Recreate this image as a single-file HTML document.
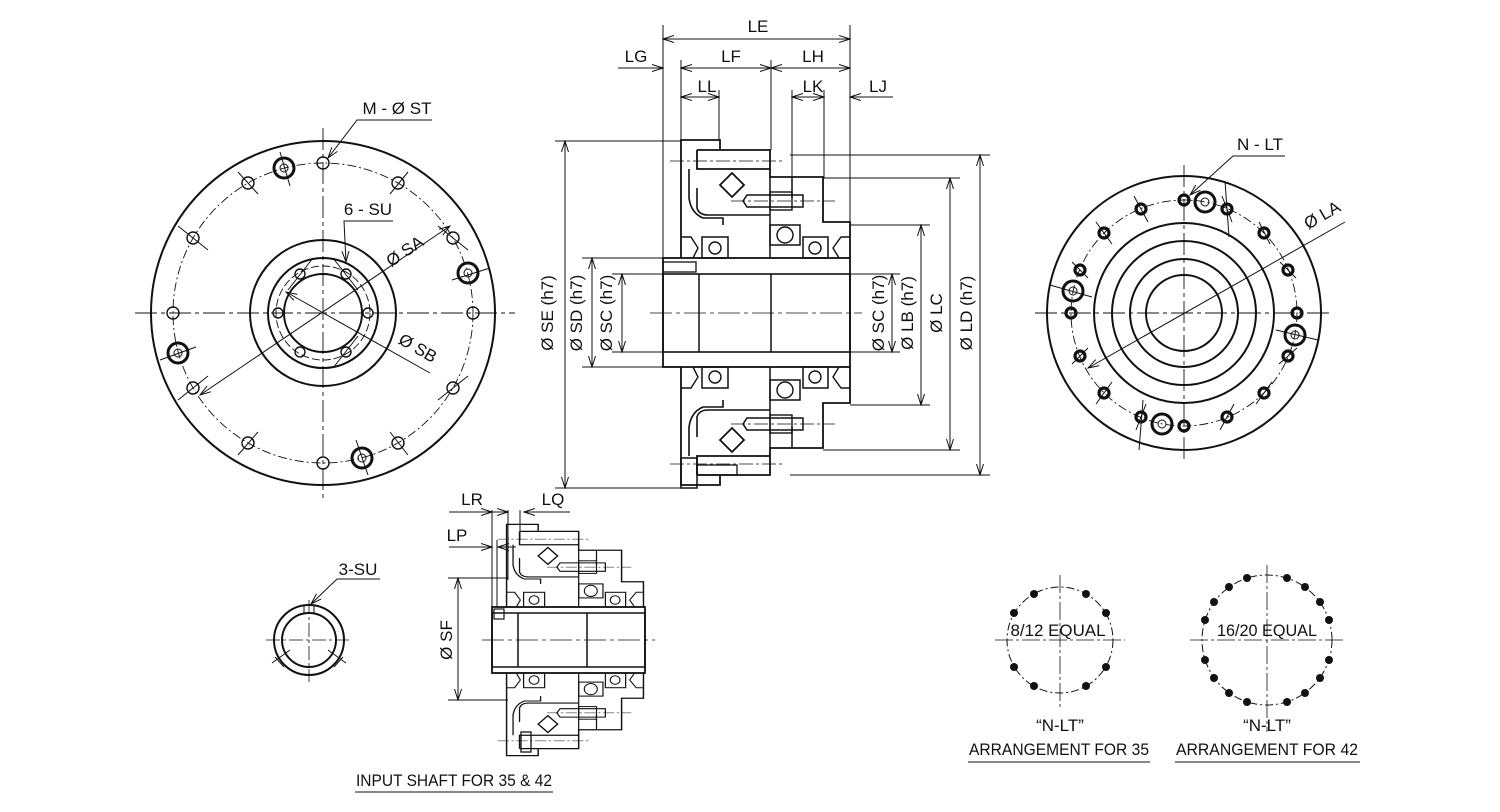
<!DOCTYPE html>
<html><head><meta charset="utf-8"><style>
html,body{margin:0;padding:0;background:#fff;}
svg{display:block;}
text{font-family:"Liberation Sans",Arial,sans-serif;font-size:17px;fill:#111;}
</style></head><body>
<svg width="1500" height="812" viewBox="0 0 1500 812" xmlns="http://www.w3.org/2000/svg">
<defs>
<marker id="a" markerWidth="12" markerHeight="8" refX="11" refY="4" orient="auto-start-reverse" markerUnits="userSpaceOnUse">
<path d="M0,0.5 L11,4 L0,7.5" fill="none" stroke="#111" stroke-width="1"/></marker>
<g id="half" fill="none" stroke="#111">
 <path d="M18,0 L18,-118 L57,-118 L57,-108 L34,-108 M57,-108 L107,-108 L107,-89 L34,-89 L34,-108 M107,-89 L107,-81 L160,-81 L160,-36 L187,-36 L187,0" stroke-width="1.8"/>
 <path d="M107,-81 L107,-33 L107,0 M129,-81 L129,-60" stroke-width="1.5"/>
 <path d="M26,-89 L26,-60 Q28,-45 40,-40 L60,-40 L60,-33 M34,-70 L34,-50 Q36,-43 45,-43 L107,-43" stroke-width="1.6"/>
 <rect x="39" y="-21" width="26" height="21" stroke-width="1.5"/><circle cx="52" cy="-10" r="6" stroke-width="1.4"/>
 <rect x="107" y="-33" width="30" height="20" stroke-width="1.5"/><circle cx="122" cy="-23" r="8" stroke-width="1.4"/>
 <rect x="140" y="-21" width="25" height="21" stroke-width="1.5"/><circle cx="152" cy="-10" r="6" stroke-width="1.4"/>
 <path d="M18,-21 L28,-21 L35,-10 L30,0 M187,-21 L178,-21 L170,-10 L176,0" stroke-width="1.4"/>
 <path d="M69,-85 L81,-73 L69,-61 L57,-73 Z" stroke-width="1.8"/>
 <path d="M84,-63 L140,-63 L140,-51 L84,-51 L80,-57 Z" stroke-width="1.5"/>
 <rect x="107" y="-66" width="22" height="18" stroke-width="1.4"/>
 <path d="M68,-57 L172,-57 M7,-97 L120,-97" stroke-width="0.8" stroke-dasharray="14,3,3,3"/>
</g>
</defs>
<g fill="none" stroke="#111">
<!-- LEFT VIEW -->
<circle cx="323" cy="313" r="172" stroke-width="2"/>
<circle cx="323" cy="313" r="150" stroke-width="0.9" stroke-dasharray="9,3,2,3"/>
<circle cx="323" cy="313" r="73" stroke-width="2"/>
<circle cx="323" cy="313" r="55" stroke-width="2"/>
<circle cx="323" cy="313" r="47" stroke-width="0.9" stroke-dasharray="8,3"/>
<circle cx="323" cy="313" r="39" stroke-width="2"/>
<path d="M135,313 L515,313 M323,128 L323,500" stroke-width="0.9" stroke-dasharray="22,4,4,4"/>
<g stroke-width="1.4">
<circle cx="323" cy="163" r="6"/><circle cx="398" cy="183" r="6"/><circle cx="453" cy="238" r="6"/><circle cx="473" cy="313" r="6"/>
<circle cx="453" cy="388" r="6"/><circle cx="398" cy="443" r="6"/><circle cx="323" cy="463" r="6"/><circle cx="248" cy="443" r="6"/>
<circle cx="193" cy="388" r="6"/><circle cx="173" cy="313" r="6"/><circle cx="193" cy="238" r="6"/><circle cx="248" cy="183" r="6"/>
<circle cx="368" cy="313" r="5"/><circle cx="278" cy="313" r="5"/><circle cx="346" cy="274" r="5"/><circle cx="300" cy="274" r="5"/><circle cx="346" cy="352" r="5"/><circle cx="300" cy="352" r="5"/>
</g>
<g stroke-width="3"><circle cx="284" cy="168" r="10"/><circle cx="468" cy="273" r="10"/><circle cx="178" cy="353" r="10"/><circle cx="362" cy="458" r="10"/></g>
<g stroke-width="1"><circle cx="284" cy="168" r="4"/><circle cx="468" cy="273" r="4"/><circle cx="178" cy="353" r="4"/><circle cx="362" cy="458" r="4"/>
<path d="M280,152 L290,186 M452,280 L490,268 M160,360 L196,347 M356,440 L368,475 M238,172 L258,194 M408,172 L390,194 M438,226 L468,250 M438,400 L468,376 M408,455 L390,432 M238,455 L258,432 M178,226 L208,250 M178,400 L208,376 M333,258 L358,290 M288,290 L313,258 M333,368 L358,336"/>
<path d="M200,395 L450,226" marker-start="url(#a)" marker-end="url(#a)"/>
<path d="M286,292 L430,373" marker-start="url(#a)"/>
<path d="M432,120 L357,120 L328,158" marker-end="url(#a)"/>
<path d="M393,221 L344,221 L346,262" marker-end="url(#a)"/>
</g>
<!-- RIGHT VIEW -->
<circle cx="1184" cy="313" r="137" stroke-width="2"/>
<circle cx="1184" cy="313" r="113" stroke-width="0.9" stroke-dasharray="9,3,2,3"/>
<circle cx="1184" cy="313" r="90" stroke-width="2"/>
<circle cx="1184" cy="313" r="72" stroke-width="2"/>
<circle cx="1184" cy="313" r="54" stroke-width="2"/>
<circle cx="1184" cy="313" r="38" stroke-width="2"/>
<path d="M1035,313 L1332,313 M1184,165 L1184,462" stroke-width="0.9" stroke-dasharray="22,4,4,4"/>
<g stroke-width="3.2">
<circle cx="1184" cy="200" r="5"/><circle cx="1227" cy="209" r="5"/><circle cx="1264" cy="233" r="5"/><circle cx="1288" cy="270" r="5"/>
<circle cx="1297" cy="313" r="5"/><circle cx="1288" cy="356" r="5"/><circle cx="1264" cy="393" r="5"/><circle cx="1227" cy="417" r="5"/>
<circle cx="1184" cy="426" r="5"/><circle cx="1141" cy="417" r="5"/><circle cx="1104" cy="393" r="5"/><circle cx="1080" cy="356" r="5"/>
<circle cx="1071" cy="313" r="5"/><circle cx="1080" cy="270" r="5"/><circle cx="1104" cy="233" r="5"/><circle cx="1141" cy="209" r="5"/>
</g>
<g stroke-width="1">
<path d="M1222,196 L1232,222 M1259,222 L1270,244 M1280,262 L1296,278 M1279,364 L1297,348 M1256,404 L1272,382 M1220,430 L1234,404 M1136,430 L1146,404 M1096,404 L1112,382 M1072,364 L1088,348 M1072,262 L1088,278 M1096,222 L1112,244 M1134,196 L1148,222"/>
</g>
<g stroke-width="3"><circle cx="1205" cy="202" r="10"/><circle cx="1295" cy="335" r="10"/><circle cx="1162" cy="424" r="10"/><circle cx="1073" cy="291" r="10"/></g>
<g stroke-width="1"><circle cx="1205" cy="202" r="4"/><circle cx="1295" cy="335" r="4"/><circle cx="1162" cy="424" r="4"/><circle cx="1073" cy="291" r="4"/>
<path d="M1088,368 L1345,222" marker-start="url(#a)"/>
<path d="M1285,156 L1233,156 L1190,195" marker-end="url(#a)"/>
<path d="M1225,181 L1229,237 M1143,400 L1139,450 M1050,285 L1092,297 M1276,330 L1318,340"/>
</g>
<!-- MIDDLE SECTION -->
<rect x="663" y="258" width="187" height="109" stroke-width="1.8"/>
<rect x="663" y="274" width="187" height="78" stroke-width="1.6"/>
<path d="M699,274 L699,352 M771,274 L771,352" stroke-width="1.5"/>
<path d="M650,313 L862,313" stroke-width="0.8" stroke-dasharray="22,4,4,4"/>
<use href="#half" transform="translate(663,258)"/>
<use href="#half" transform="translate(663,367) scale(1,-1)"/>
<rect x="663" y="262" width="33" height="10" stroke-width="1.3"/>
<rect x="681" y="458" width="16" height="30" stroke-width="1.5"/>
<rect x="697" y="465" width="40" height="10" stroke-width="1.3"/>
<g stroke-width="1">
<path d="M663,25 L663,258 M850,25 L850,258 M681,60 L681,140 M719,90 L719,140 M771,60 L771,150 M792,90 L792,178 M824,90 L824,178"/>
<path d="M663,39 L850,39" marker-start="url(#a)" marker-end="url(#a)"/>
<path d="M618,68 L663,68" marker-end="url(#a)"/>
<path d="M681,68 L771,68" marker-start="url(#a)" marker-end="url(#a)"/>
<path d="M771,68 L850,68" marker-start="url(#a)" marker-end="url(#a)"/>
<path d="M681,97 L719,97" marker-start="url(#a)" marker-end="url(#a)"/>
<path d="M792,97 L824,97" marker-start="url(#a)" marker-end="url(#a)"/>
<path d="M893,97 L850,97" marker-end="url(#a)"/>
<path d="M555,141 L681,141 M555,488 L681,488 M582,258 L663,258 M582,367 L663,367 M612,274 L663,274 M612,352 L663,352"/>
<path d="M565,141 L565,488" marker-start="url(#a)" marker-end="url(#a)"/>
<path d="M592,258 L592,367" marker-start="url(#a)" marker-end="url(#a)"/>
<path d="M622,274 L622,352" marker-start="url(#a)" marker-end="url(#a)"/>
<path d="M850,274 L900,274 M850,352 L900,352 M850,225 L930,225 M850,405 L930,405 M823,178 L960,178 M823,450 L960,450 M790,155 L990,155 M790,475 L990,475"/>
<path d="M892,274 L892,352" marker-start="url(#a)" marker-end="url(#a)"/>
<path d="M921,225 L921,405" marker-start="url(#a)" marker-end="url(#a)"/>
<path d="M950,178 L950,450" marker-start="url(#a)" marker-end="url(#a)"/>
<path d="M980,155 L980,475" marker-start="url(#a)" marker-end="url(#a)"/>
</g>
<!-- BOTTOM SECTION -->
<rect x="492" y="607" width="153" height="66" stroke-width="1.8"/>
<rect x="492" y="613" width="153" height="54" stroke-width="1.5"/>
<path d="M518,613 L518,667 M587,613 L587,667" stroke-width="1.5"/>
<path d="M482,640 L655,640" stroke-width="0.8" stroke-dasharray="22,4,4,4"/>
<use href="#half" transform="translate(492,607) scale(0.81,0.7)"/>
<use href="#half" transform="translate(492,673) scale(0.81,-0.7)"/>
<rect x="494" y="609" width="10" height="10" stroke-width="1.2"/>
<rect x="521" y="732" width="10" height="20" stroke-width="1.3"/>
<g stroke-width="1">
<path d="M448,578 L508,578 M448,700 L508,700"/>
<path d="M458,578 L458,700" marker-start="url(#a)" marker-end="url(#a)"/>
<path d="M492,510 L492,607 M497,540 L497,607 M508,510 L508,580 M520,510 L520,540"/>
<path d="M449,512 L492,512" marker-end="url(#a)"/>
<path d="M508,512 L492,512" marker-start="url(#a)"/>
<path d="M570,512 L524,512" marker-end="url(#a)"/>
<path d="M449,547 L492,547" marker-end="url(#a)"/>
<path d="M516,547 L498,547" marker-end="url(#a)"/>
</g>
<!-- 3-SU -->
<circle cx="309" cy="640" r="35" stroke-width="2"/>
<circle cx="309" cy="640" r="27" stroke-width="2"/>
<path d="M266,640 L352,640 M309,600 L309,682" stroke-width="0.8" stroke-dasharray="14,3,3,3"/>
<g stroke-width="1"><rect x="304" y="605" width="10" height="8"/>
<path d="M380,579 L337,579 L311,604" marker-end="url(#a)"/>
<path d="M272,663 L290,650 M346,663 L328,650 M275,657 L284,667 M343,657 L334,667"/></g>
<!-- ARRANGEMENTS -->
<circle cx="1060" cy="640" r="53" stroke-width="1" stroke-dasharray="8,3,2,3"/>
<path d="M995,640 L1125,640 M1060,575 L1060,707" stroke-width="0.8" stroke-dasharray="18,3,3,3"/>
<circle cx="1267" cy="640" r="65" stroke-width="1" stroke-dasharray="8,3,2,3"/>
<path d="M1190,640 L1344,640 M1267,565 L1267,732" stroke-width="0.8" stroke-dasharray="18,3,3,3"/>
<g fill="#111" stroke="none">
<circle cx="1034" cy="594" r="4"/><circle cx="1086" cy="594" r="4"/><circle cx="1014" cy="613" r="4"/><circle cx="1106" cy="613" r="4"/>
<circle cx="1014" cy="667" r="4"/><circle cx="1106" cy="667" r="4"/><circle cx="1034" cy="686" r="4"/><circle cx="1086" cy="686" r="4"/>
<circle cx="1247" cy="578" r="4"/><circle cx="1287" cy="578" r="4"/><circle cx="1229" cy="587" r="4"/><circle cx="1305" cy="587" r="4"/>
<circle cx="1214" cy="602" r="4"/><circle cx="1320" cy="602" r="4"/><circle cx="1205" cy="620" r="4"/><circle cx="1329" cy="620" r="4"/>
<circle cx="1205" cy="660" r="4"/><circle cx="1329" cy="660" r="4"/><circle cx="1214" cy="678" r="4"/><circle cx="1320" cy="678" r="4"/>
<circle cx="1229" cy="693" r="4"/><circle cx="1305" cy="693" r="4"/><circle cx="1247" cy="702" r="4"/><circle cx="1287" cy="702" r="4"/>
</g>
<g stroke-width="1"><path d="M968,762 L1150,762 M1175,762 L1360,762 M355,792 L553,792"/></g>
</g>
<!-- TEXT -->
<text x="758" y="32" text-anchor="middle">LE</text>
<text x="636" y="62" text-anchor="middle">LG</text>
<text x="731" y="62" text-anchor="middle">LF</text>
<text x="813" y="62" text-anchor="middle">LH</text>
<text x="707" y="92" text-anchor="middle">LL</text>
<text x="813" y="92" text-anchor="middle">LK</text>
<text x="878" y="92" text-anchor="middle">LJ</text>
<text x="397" y="114" text-anchor="middle">M - Ø ST</text>
<text x="368" y="215" text-anchor="middle">6 - SU</text>
<text transform="translate(408,256) rotate(-34)" text-anchor="middle">Ø SA</text>
<text transform="translate(415,353) rotate(30)" text-anchor="middle">Ø SB</text>
<text x="1260" y="150" text-anchor="middle">N - LT</text>
<text transform="translate(1325,220) rotate(-30)" text-anchor="middle">Ø LA</text>
<text transform="translate(553,313) rotate(-90)" text-anchor="middle">Ø SE (h7)</text>
<text transform="translate(582,313) rotate(-90)" text-anchor="middle">Ø SD (h7)</text>
<text transform="translate(612,313) rotate(-90)" text-anchor="middle">Ø SC (h7)</text>
<text transform="translate(884,313) rotate(-90)" text-anchor="middle">Ø SC (h7)</text>
<text transform="translate(913,313) rotate(-90)" text-anchor="middle">Ø LB (h7)</text>
<text transform="translate(942,313) rotate(-90)" text-anchor="middle">Ø LC</text>
<text transform="translate(972,313) rotate(-90)" text-anchor="middle">Ø LD (h7)</text>
<text transform="translate(452,640) rotate(-90)" text-anchor="middle">Ø SF</text>
<text x="472" y="505" text-anchor="middle">LR</text>
<text x="553" y="505" text-anchor="middle">LQ</text>
<text x="457" y="541" text-anchor="middle">LP</text>
<text x="358" y="575" text-anchor="middle">3-SU</text>
<text x="1058" y="636" text-anchor="middle" font-size="16" textLength="95" lengthAdjust="spacingAndGlyphs">8/12 EQUAL</text>
<text x="1267" y="636" text-anchor="middle" font-size="16" textLength="100" lengthAdjust="spacingAndGlyphs">16/20 EQUAL</text>
<text x="1060" y="731" text-anchor="middle" font-size="16">“N-LT”</text>
<text x="1267" y="731" text-anchor="middle" font-size="16">“N-LT”</text>
<text x="1059" y="755" text-anchor="middle" font-size="16" textLength="180" lengthAdjust="spacingAndGlyphs">ARRANGEMENT FOR 35</text>
<text x="1267" y="755" text-anchor="middle" font-size="16" textLength="182" lengthAdjust="spacingAndGlyphs">ARRANGEMENT FOR 42</text>
<text x="454" y="786" text-anchor="middle" font-size="15" textLength="196" lengthAdjust="spacingAndGlyphs">INPUT SHAFT FOR 35 &amp; 42</text>
</svg>
</body></html>
